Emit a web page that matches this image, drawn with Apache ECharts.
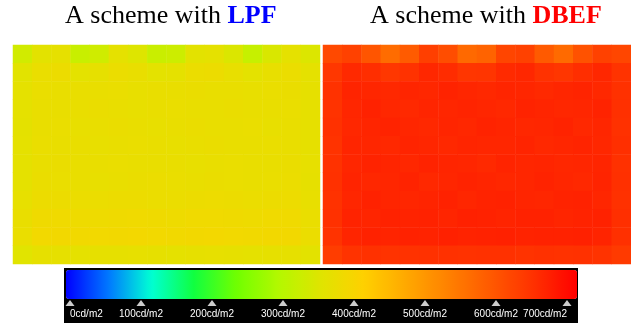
<!DOCTYPE html>
<html>
<head>
<meta charset="utf-8">
<script src="https://cdn.jsdelivr.net/npm/echarts@6/dist/echarts.min.js"></script>
<style>
  html, body { margin: 0; padding: 0; background: #fff; }
  #main { width: 631px; height: 323px; }
</style>
</head>
<body>
<div id="main"></div>
<script>
  // luminance, 16 columns x 12 rows, top row first (cd/m2)
  const lpf = [
    [335, 360, 366, 322, 332, 364, 352, 324, 328, 360, 364, 348, 320, 346, 364, 350],
    [358, 374, 378, 362, 366, 376, 372, 362, 364, 376, 378, 370, 362, 370, 376, 364],
    [364, 374, 373, 372, 373, 374, 371, 372, 373, 375, 373, 372, 371, 374, 375, 366],
    [365, 373, 372, 373, 375, 373, 371, 372, 374, 373, 372, 375, 373, 372, 374, 367],
    [363, 372, 374, 371, 373, 375, 372, 370, 373, 375, 372, 373, 374, 371, 373, 366],
    [364, 374, 372, 372, 371, 373, 374, 372, 371, 373, 375, 372, 372, 374, 372, 367],
    [365, 373, 375, 372, 372, 374, 372, 373, 372, 371, 373, 374, 372, 373, 375, 368],
    [364, 375, 374, 372, 370, 373, 375, 376, 374, 373, 375, 374, 372, 374, 376, 367],
    [368, 378, 379, 377, 376, 378, 379, 377, 376, 378, 380, 378, 376, 379, 380, 370],
    [372, 384, 385, 383, 382, 384, 386, 384, 383, 385, 386, 384, 383, 385, 386, 374],
    [374, 389, 390, 388, 389, 390, 391, 389, 388, 390, 391, 389, 388, 390, 390, 376],
    [356, 366, 367, 365, 366, 367, 368, 366, 365, 367, 368, 366, 365, 367, 366, 360]
  ];
  const dbef = [
    [618, 630, 600, 565, 590, 632, 612, 570, 578, 624, 630, 592, 568, 604, 630, 622],
    [645, 664, 658, 645, 652, 666, 660, 646, 648, 662, 666, 652, 646, 658, 666, 650],
    [652, 670, 667, 665, 669, 666, 671, 667, 665, 669, 667, 664, 668, 670, 665, 654],
    [651, 668, 672, 666, 664, 669, 667, 670, 668, 665, 671, 669, 666, 668, 671, 655],
    [653, 666, 669, 671, 668, 665, 669, 666, 671, 669, 666, 668, 671, 665, 668, 654],
    [650, 669, 667, 665, 670, 668, 665, 669, 667, 668, 670, 665, 667, 670, 666, 656],
    [652, 668, 671, 669, 666, 671, 669, 667, 664, 670, 668, 669, 666, 668, 669, 653],
    [654, 670, 666, 668, 671, 665, 668, 671, 669, 666, 668, 671, 668, 665, 670, 655],
    [652, 668, 672, 669, 668, 670, 673, 668, 671, 672, 669, 668, 671, 673, 668, 654],
    [653, 671, 669, 673, 671, 672, 669, 674, 672, 670, 673, 672, 669, 671, 672, 656],
    [651, 669, 672, 670, 673, 671, 674, 671, 673, 674, 671, 673, 672, 674, 670, 655],
    [636, 650, 653, 651, 652, 654, 653, 652, 654, 653, 651, 653, 652, 654, 650, 640]
  ];
  const scaleTicks = [0, 100, 200, 300, 400, 500, 600, 700];
  const scaleColors = ['#0000ff', '#0078ff', '#00ffd4', '#10ff40', '#70ff00', '#b4f800', '#e0e400',
                       '#ffd000', '#ffa800', '#ff8000', '#ff5800', '#ff3000', '#ff0000'];

  const cols = lpf[0].map((_, i) => i);
  const rows = lpf.map((_, i) => i);
  const toCells = m => m.flatMap((r, y) => r.map((v, x) => [x, y, v]));

  const chart = echarts.init(document.getElementById('main'));
  const serif = 'Liberation Serif, Times New Roman, serif';
  const titleRich = c => ({
    n: {fontFamily: serif, fontSize: 26, fontWeight: 'normal', color: '#000'},
    b: {fontFamily: serif, fontSize: 26, fontWeight: 'bold', color: c}
  });

  chart.setOption({
    backgroundColor: '#fff',
    animation: false,
    title: [
      {text: '{n|A scheme with }{b|LPF}', left: 65, top: 3, padding: 0,
       textStyle: {fontWeight: 'normal', rich: titleRich('#0000ff')}},
      {text: '{n|A scheme with }{b|DBEF}', left: 370, top: 3, padding: 0,
       textStyle: {fontWeight: 'normal', rich: titleRich('#ff0000')}}
    ],
    grid: [
      {left: 13, top: 45, width: 307, height: 219},
      {left: 323, top: 45, width: 308, height: 219},
      {left: 70, top: 268, width: 497, height: 55}
    ],
    xAxis: [
      {type: 'category', gridIndex: 0, data: cols, show: false},
      {type: 'category', gridIndex: 1, data: cols, show: false},
      {type: 'value', gridIndex: 2, min: 0, max: 700, interval: 100, z: 10,
       axisLine: {show: false}, axisTick: {show: false}, splitLine: {show: false},
       axisLabel: {
         inside: true, margin: 4, color: '#fff', fontSize: 10,
         fontFamily: 'Liberation Sans, Arial, sans-serif',
         alignMinLabel: 'left', alignMaxLabel: 'right',
         formatter: '{value}cd/m2'
       }}
    ],
    yAxis: [
      {type: 'category', gridIndex: 0, data: rows, inverse: true, show: false},
      {type: 'category', gridIndex: 1, data: rows, inverse: true, show: false},
      {type: 'value', gridIndex: 2, min: 0, max: 1, show: false}
    ],
    visualMap: {
      type: 'continuous',
      seriesIndex: [0, 1],
      min: -5,
      max: 715,
      orient: 'horizontal',
      left: 64,
      top: 268,
      itemWidth: 29,
      itemHeight: 511,
      calculable: false,
      hoverLink: false,
      text: null,
      showLabel: false,
      padding: [2, 1, 24, 2],
      backgroundColor: '#000',
      inRange: {color: scaleColors}
    },
    series: [
      {type: 'heatmap', xAxisIndex: 0, yAxisIndex: 0, data: toCells(lpf),
       itemStyle: {borderWidth: 0}, emphasis: {disabled: true}},
      {type: 'heatmap', xAxisIndex: 1, yAxisIndex: 1, data: toCells(dbef),
       itemStyle: {borderWidth: 0}, emphasis: {disabled: true}},
      {type: 'scatter', xAxisIndex: 2, yAxisIndex: 2, z: 10, silent: true,
       data: scaleTicks.map(v => [v, 0]),
       symbol: 'triangle', symbolSize: [9, 6], symbolOffset: [0, -20],
       itemStyle: {color: '#fff'}}
    ]
  });
</script>
</body>
</html>
